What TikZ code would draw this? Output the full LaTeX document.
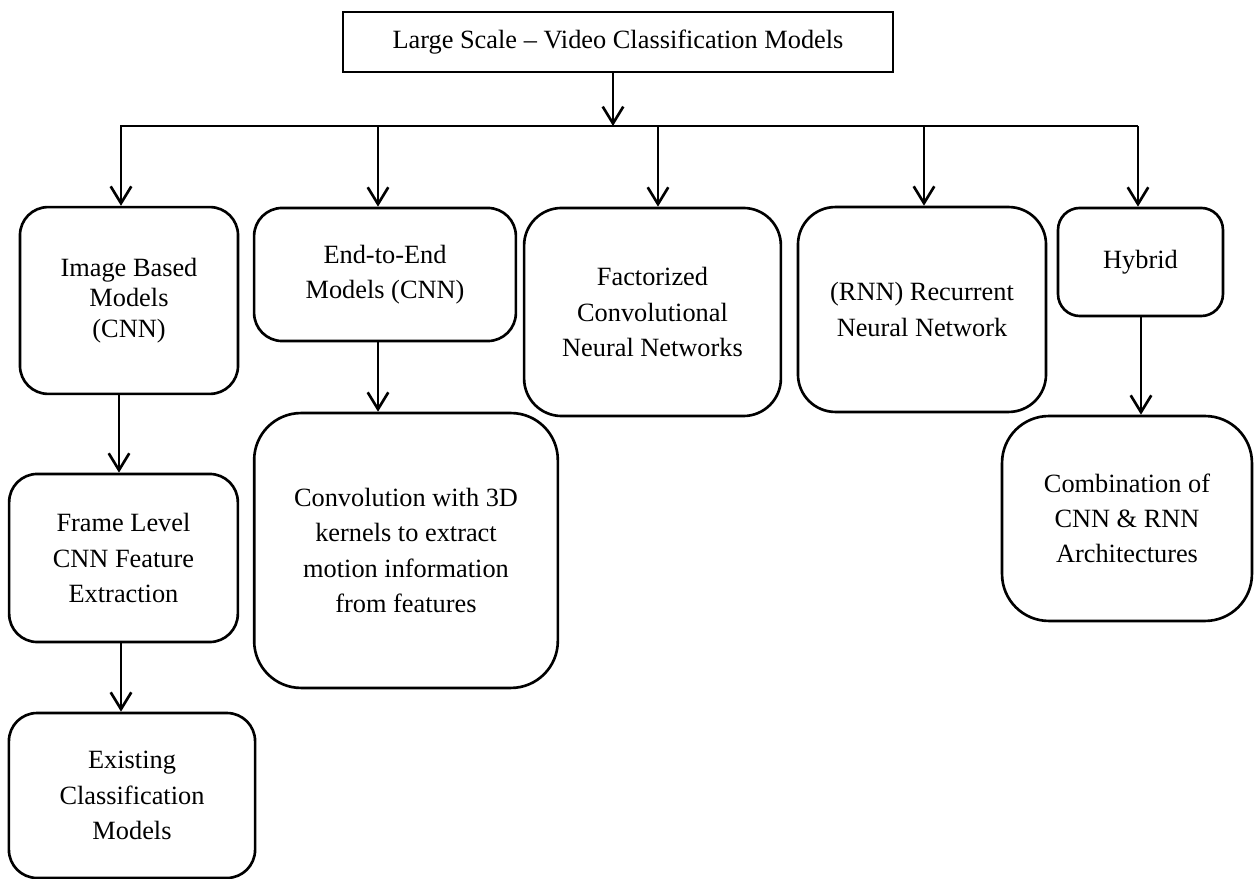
\documentclass[tikz,border=0pt]{standalone}
\usepackage{fontspec}
\setmainfont{Liberation Serif}
\usepackage{tikz}
\usetikzlibrary{shapes.geometric, arrows, arrows.meta}
\tikzstyle{arrow} = [line width=1.2pt,-{Straight Barb[length=2.7mm,width=3.3mm]}]
\tikzstyle{title} = [draw, line width=1.2pt, align=center, inner sep=0pt, font=\fontsize{12pt}{16pt}\selectfont]
\tikzstyle{model} = [draw, line width=1.2pt, rounded corners=0.45cm, align=center, inner sep=0pt, font=\fontsize{12pt}{16pt}\selectfont]

\begin{document}
\begin{tikzpicture}[x=0.016cm,y=-0.016cm]
\useasboundingbox (0,0) rectangle (1254,879);

\node[title, minimum width=8.8cm, minimum height=0.96cm] (top) at (618,42) {Large Scale -- Video Classification Models};

\node[model, minimum width=3.49cm, minimum height=2.99cm, font=\fontsize{12pt}{14pt}\selectfont] (image) at (129,300.5) {Image Based\\Models\\(CNN)};
\node[model, minimum width=4.19cm, minimum height=2.13cm] (endtoend) at (385,274.5) {End-to-End\\Models (CNN)};
\node[model, minimum width=4.11cm, minimum height=3.33cm, rounded corners=0.6cm] (factor) at (652.5,312) {Factorized\\Convolutional\\Neural Networks};
\node[model, minimum width=3.97cm, minimum height=3.28cm, rounded corners=0.6cm] (rnn) at (922,309.5) {(RNN) Recurrent\\Neural Network};
\node[model, minimum width=2.64cm, minimum height=1.73cm, rounded corners=0.35cm] (hybrid) at (1140.5,262) {Hybrid};

\node[model, minimum width=3.66cm, minimum height=2.69cm] (frame) at (123.5,558) {Frame Level\\CNN Feature\\Extraction};
\node[model, minimum width=3.94cm, minimum height=2.64cm] (existing) at (132,795.5) {Existing\\Classification\\Models};
\node[model, minimum width=4.86cm, minimum height=4.4cm, rounded corners=0.75cm] (conv) at (406,550.5) {Convolution with 3D\\kernels to extract\\motion information\\from features};
\node[model, minimum width=4.0cm, minimum height=3.28cm, rounded corners=0.75cm] (combo) at (1127,518.5) {Combination of\\CNN \& RNN\\Architectures};

\coordinate (hub) at (613,126);
\coordinate (d1) at (121,126);
\coordinate (d2) at (378,126);
\coordinate (d3) at (658,126);
\coordinate (d4) at (924,126);
\coordinate (d5) at (1138,126);

\draw[arrow] (hub |- top.south) -- (hub);
\draw[line width=1.2pt] (120,126) -- (d5);

\draw[arrow] (d1) -- (d1 |- image.north);
\draw[arrow] (d2) -- (d2 |- endtoend.north);
\draw[arrow] (d3) -- (d3 |- factor.north);
\draw[arrow] (d4) -- (d4 |- rnn.north);
\draw[arrow] (d5) -- (d5 |- hybrid.north);

\draw[arrow] (image.south -| 119,0) -- (frame.north -| 119,0);
\draw[arrow] (frame.south -| 121,0) -- (existing.north -| 121,0);
\draw[arrow] (endtoend.south -| d2) -- (conv.north -| d2);
\draw[arrow] (hybrid.south -| 1141,0) -- (combo.north -| 1141,0);
\end{tikzpicture}
\end{document}
